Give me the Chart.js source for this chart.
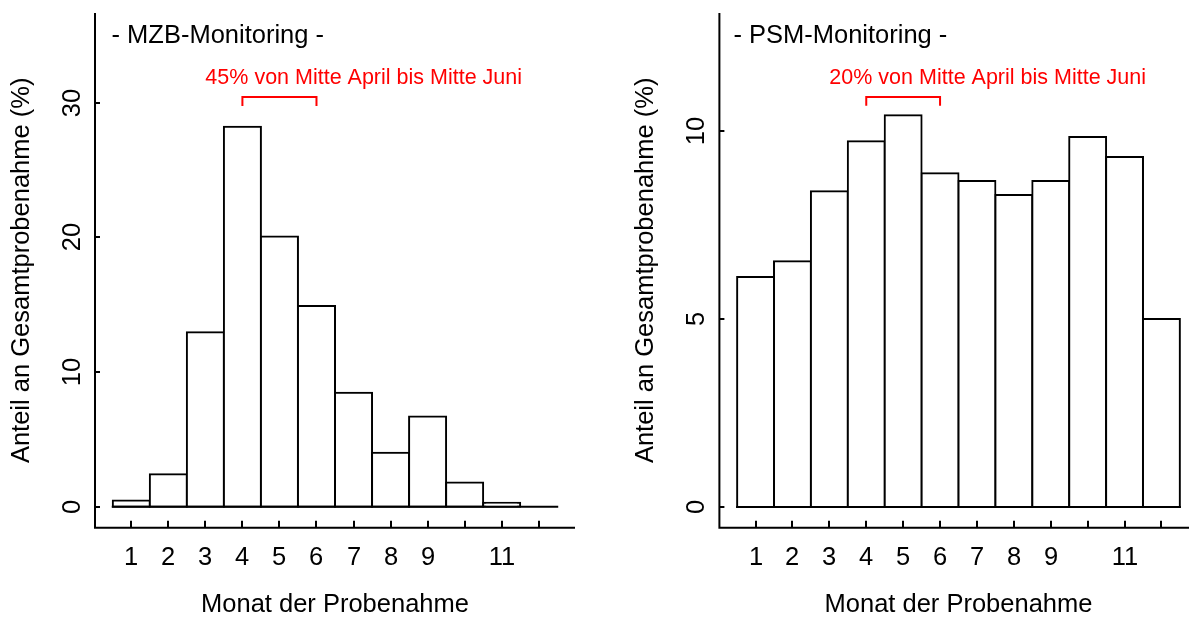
<!DOCTYPE html>
<html>
<head>
<meta charset="utf-8">
<script src="https://cdn.jsdelivr.net/npm/chart.js@4.4.1/dist/chart.umd.min.js"></script>
<style>
  html, body { margin: 0; padding: 0; background: #fff; overflow: hidden; width: 1189px; height: 617px; position: relative; }
  canvas { position: absolute; top: 0; }
  #mzb { left: 0; }
  #psm { left: 600px; }
</style>
</head>
<body>
<canvas id="mzb" width="600" height="617" style="width:600px;height:617px"></canvas>
<canvas id="psm" width="600" height="617" style="width:600px;height:617px"></canvas>
<script>
// ---- data ----
const months = [1, 2, 3, 4, 5, 6, 7, 8, 9, 10, 11, 12];
const monthTickLabels = ['1', '2', '3', '4', '5', '6', '7', '8', '9', '', '11', ''];
const mzbValues = [0.45, 2.4, 12.95, 28.2, 20.05, 14.9, 8.45, 4.0, 6.7, 1.8, 0.3, 0];
const psmValues = [6.12, 6.54, 8.40, 9.73, 10.42, 8.88, 8.67, 8.30, 8.67, 9.84, 9.31, 5.0];
const mzbYTicks = [0, 10, 20, 30];
const psmYTicks = [0, 5, 10];
const panelTitles = ['- MZB-Monitoring -', '- PSM-Monitoring -'];
const noteTexts = ['45% von Mitte April bis Mitte Juni', '20% von Mitte April bis Mitte Juni'];
const bracketMonths = [4, 6];           // bracket spans these month centres
const noteStartMonth = 3;               // note text is left-aligned at this x value
const mzbNote = { textY: 31.35, bracketY: 30.4, legY: 29.75 };
const psmNote = { textY: 11.25, bracketY: 10.9, legY: 10.67 };
const xTitle = 'Monat der Probenahme';
const yTitle = 'Anteil an Gesamtprobenahme (%)';

// ---- drawing helpers ----
const FONT_MAIN = '25.5px "Liberation Sans", Arial, sans-serif';
const FONT_NOTE = '21.5px "Liberation Sans", Arial, sans-serif';

const decorPlugin = {
  id: 'decor',
  afterDatasetsDraw(chart, args, opts) {
    const ctx = chart.ctx;
    const xs = chart.scales.x, ys = chart.scales.y;
    const area = chart.chartArea;
    ctx.save();
    ctx.strokeStyle = '#000';
    ctx.lineWidth = 2;
    ctx.lineCap = 'butt';

    // baseline of the histogram (0 line across all bins)
    ctx.beginPath();
    ctx.moveTo(xs.getPixelForValue(months[0] - 0.5) - 1, ys.getPixelForValue(0));
    ctx.lineTo(xs.getPixelForValue(months[months.length - 1] + 0.5) + 1, ys.getPixelForValue(0));
    ctx.stroke();

    // L-shaped axes
    const left = xs.getPixelForValue(xs.min);
    const bottom = ys.getPixelForValue(ys.min);
    ctx.beginPath();
    ctx.moveTo(left, ys.getPixelForValue(ys.max));
    ctx.lineTo(left, bottom);
    ctx.lineTo(xs.getPixelForValue(xs.max), bottom);
    ctx.stroke();

    // x ticks (pointing inward) + labels
    const xTicks = (xs.ticks && xs.ticks.length) ? xs.ticks : months.map(v => ({ value: v }));
    ctx.fillStyle = '#000';
    ctx.font = FONT_MAIN;
    ctx.textAlign = 'center';
    ctx.textBaseline = 'alphabetic';
    xTicks.forEach(t => {
      const px = Math.round(xs.getPixelForValue(t.value));
      ctx.beginPath();
      ctx.moveTo(px, bottom);
      ctx.lineTo(px, bottom - 7);
      ctx.stroke();
      const lbl = monthTickLabels[months.indexOf(t.value)];
      if (lbl) ctx.fillText(lbl, px, bottom + 37.5);
    });

    // y ticks (pointing inward) + rotated labels
    opts.yTicks.forEach(v => {
      const py = Math.round(ys.getPixelForValue(v));
      ctx.beginPath();
      ctx.moveTo(left, py);
      ctx.lineTo(left + 5, py);
      ctx.stroke();
      ctx.save();
      ctx.translate(left - 15.5, py);
      ctx.rotate(-Math.PI / 2);
      ctx.textAlign = 'center';
      ctx.textBaseline = 'alphabetic';
      ctx.fillText(String(v), 0, 0);
      ctx.restore();
    });

    // axis titles
    ctx.textAlign = 'center';
    ctx.fillText(xTitle, (left + xs.getPixelForValue(xs.max)) / 2, bottom + 84);
    ctx.save();
    ctx.translate(left - 66, (area.top + area.bottom) / 2);
    ctx.rotate(-Math.PI / 2);
    ctx.fillText(yTitle, 0, 0);
    ctx.restore();

    // panel title
    ctx.textAlign = 'left';
    ctx.fillText(opts.title, left + opts.titleOffset, area.top + 29.5);

    // red note + bracket
    ctx.fillStyle = '#ff0000';
    ctx.strokeStyle = '#ff0000';
    ctx.font = FONT_NOTE;
    ctx.textAlign = 'left';
    ctx.fillText(opts.note, xs.getPixelForValue(noteStartMonth), ys.getPixelForValue(opts.noteY.textY));
    const bx1 = xs.getPixelForValue(bracketMonths[0]);
    const bx2 = xs.getPixelForValue(bracketMonths[1]);
    const by = Math.round(ys.getPixelForValue(opts.noteY.bracketY));
    const bl = ys.getPixelForValue(opts.noteY.legY);
    ctx.beginPath();
    ctx.moveTo(bx1, bl);
    ctx.lineTo(bx1, by);
    ctx.lineTo(bx2, by);
    ctx.lineTo(bx2, bl);
    ctx.stroke();

    ctx.restore();
  }
};

function makeChart(id, values, yTicks, yMin, yMax, padding, title, titleOffset, note, noteY) {
  return new Chart(document.getElementById(id), {
    type: 'bar',
    data: {
      datasets: [{
        data: months.map((m, i) => ({ x: m, y: values[i] })),
        backgroundColor: '#ffffff',
        borderColor: '#000000',
        borderWidth: 2,
        borderSkipped: false,
        inflateAmount: 1,
        barPercentage: 1,
        categoryPercentage: 1
      }]
    },
    options: {
      responsive: false,
      animation: false,
      devicePixelRatio: 1,
      layout: { padding },
      events: [],
      plugins: {
        legend: { display: false },
        tooltip: { enabled: false },
        decor: { yTicks, title, titleOffset, note, noteY }
      },
      scales: {
        x: {
          type: 'linear', display: false, offset: false, min: 0.02, max: 12.98,
          afterBuildTicks: s => { s.ticks = months.map(v => ({ value: v })); },
          ticks: { callback: (v, i) => monthTickLabels[i] }
        },
        y: {
          type: 'linear', display: false, min: yMin, max: yMax,
          afterBuildTicks: s => { s.ticks = yTicks.map(v => ({ value: v })); }
        }
      }
    },
    plugins: [decorPlugin]
  });
}

makeChart('mzb', mzbValues, mzbYTicks, -1.56, 36.65,
  { left: 95, right: 25, top: 13, bottom: 89.3 },
  panelTitles[0], 16.5, noteTexts[0], mzbNote);

makeChart('psm', psmValues, psmYTicks, -0.55, 13.14,
  { left: 119.4, right: 2.4, top: 13, bottom: 89.3 },
  panelTitles[1], 14, noteTexts[1], psmNote);
</script>
</body>
</html>
